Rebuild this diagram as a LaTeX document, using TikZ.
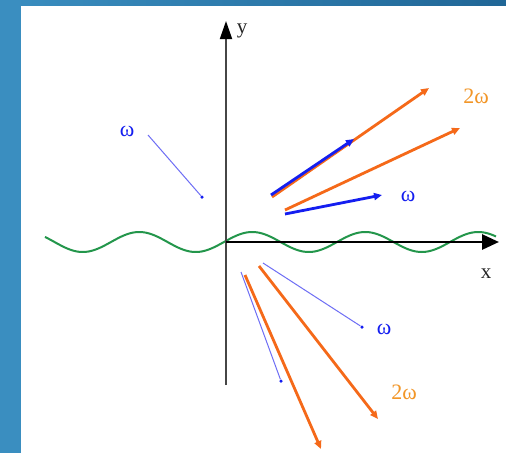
\documentclass[tikz,border=0pt]{standalone}
\usepackage{fontspec}
\setmainfont{Liberation Serif}
\usetikzlibrary{arrows.meta}
\definecolor{bandL}{RGB}{58,142,192}
\definecolor{bandR}{RGB}{32,102,150}
\definecolor{wblue}{RGB}{20,30,240}
\definecolor{thinblue}{RGB}{110,110,245}
\definecolor{worange}{RGB}{245,105,25}
\definecolor{lorange}{RGB}{242,150,40}
\definecolor{wgreen}{RGB}{35,150,75}
\definecolor{axgray}{RGB}{70,70,70}
\tikzset{
  thickblue/.style={draw=wblue,line width=2.8pt,-{Triangle[length=8pt,width=7pt]}},
  thickorange/.style={draw=worange,line width=2.8pt,-{Triangle[length=8pt,width=7pt]}},
  thinb/.style={draw=thinblue,line width=1pt},
  dotb/.style={circle,fill=wblue,inner sep=0pt,minimum size=3.5pt},
  wlab/.style={text=wblue,font=\fontsize{22}{22}\selectfont,inner sep=0pt},
  olab/.style={text=lorange,font=\fontsize{22}{22}\selectfont,inner sep=0pt},
  axlab/.style={text=black!85,font=\fontsize{21}{21}\selectfont,inner sep=0pt}
}
\begin{document}
\begin{tikzpicture}[x=1pt,y=-1pt]
\useasboundingbox (0,0) rectangle (506,453);
\fill[white] (0,0) rectangle (506,453);
\shade[left color=bandL,right color=bandR] (0,0) rectangle (506,5);
\fill[bandL] (0,0) rectangle (21,453);
% wave
\draw[wgreen,line width=2pt,domain=45:496,samples=200,smooth] plot (\x,{242-10*sin(3.18584*(\x-224))});
% axes
\coordinate (O) at (226,242);
\coordinate (ybot) at (226,385);
\coordinate (ytop) at (226,21);
\coordinate (xend) at (499,242);
\draw[axgray,line width=1.8pt,-{Triangle[length=18pt,width=12pt,color=black]}] (ybot) -- (ytop);
\draw[black,line width=2.8pt,-{Triangle[length=17pt,width=15pt]}] (O) -- (xend);
\node[axlab] (ylab) at (242,31) {y};
\node[axlab] (xlab) at (486,274) {x};
% upper left thin line
\coordinate (a1) at (148,135);
\node[dotb] (d1) at (202,197) {};
\draw[thinb] (a1) -- (d1);
\node[wlab] (w1) at (127,131) {ω};
% upper right arrows
\coordinate (o1s) at (272,197);
\coordinate (o1e) at (429,88);
\coordinate (b1s) at (271,195);
\coordinate (b1e) at (354,139);
\coordinate (o2s) at (285,210);
\coordinate (o2e) at (460,128);
\coordinate (b2s) at (285,214);
\coordinate (b2e) at (382,195);
\draw[thickorange] (o1s) -- (o1e);
\draw[thickblue] (b1s) -- (b1e);
\draw[thickorange] (o2s) -- (o2e);
\draw[thickblue] (b2s) -- (b2e);
\node[olab] (l2w1) at (476,96) {2ω};
\node[wlab] (w2) at (408,196) {ω};
% lower arrows
\coordinate (t1s) at (263,263);
\node[dotb] (d2) at (362,327) {};
\draw[thinb] (t1s) -- (d2);
\coordinate (t2s) at (241,272);
\node[dotb] (d3) at (281,381) {};
\draw[thinb] (t2s) -- (d3);
\coordinate (o3s) at (259,266);
\coordinate (o3e) at (378,419);
\coordinate (o4s) at (245,275);
\coordinate (o4e) at (321,449);
\draw[thickorange] (o3s) -- (o3e);
\draw[thickorange] (o4s) -- (o4e);
\node[wlab] (w3) at (384,329) {ω};
\node[olab] (l2w2) at (404,392) {2ω};
\end{tikzpicture}
\end{document}
